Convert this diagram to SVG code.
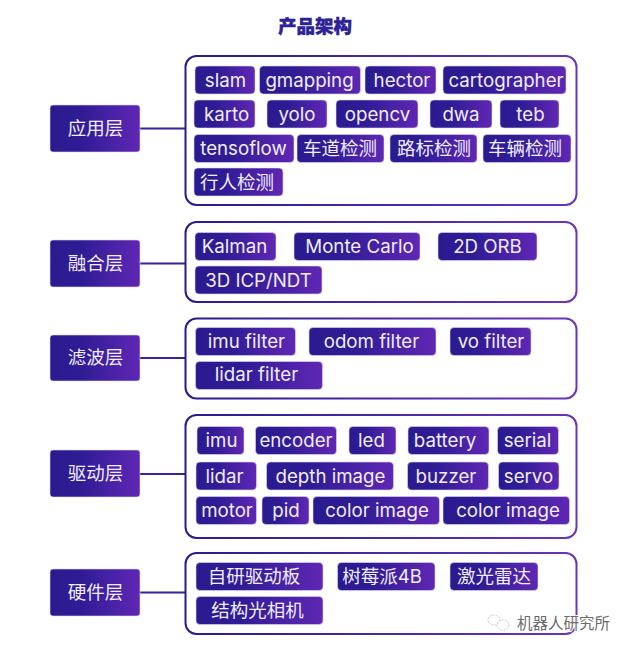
<svg xmlns="http://www.w3.org/2000/svg" width="628" height="650" viewBox="0 0 628 650">
<style>
text{font-family:Inter,"Noto Sans CJK SC",sans-serif;text-anchor:middle}
.t{fill:#f1edfb;font-size:18.700px}
.z{fill:#f1edfb;font-size:18.500px}
.l{fill:#f1edfb;font-size:18.500px}
.tag{fill:url(#g);stroke:#ddd6f0;stroke-width:.6}
.box{fill:#fff;stroke:url(#g2);stroke-width:2}
.c{stroke:#3f1f9f;stroke-width:2;fill:none}
</style>
<defs>
<linearGradient id="g" x1="0" y1="0" x2="1" y2="0"><stop offset="0" stop-color="#2a1a8f"/><stop offset=".35" stop-color="#2f1c95"/><stop offset="1" stop-color="#5f27b4"/></linearGradient>
<linearGradient id="g2" gradientUnits="userSpaceOnUse" x1="185" y1="0" x2="577" y2="0"><stop offset="0" stop-color="#2a1a8f"/><stop offset="1" stop-color="#6a35bd"/></linearGradient>
</defs>
<rect width="628" height="650" fill="#fff"/>
<text x="315" y="33" style="font-size:18.500px;font-weight:900;fill:#2c2196;stroke:#2c2196;stroke-width:.4">产品架构</text>
<g id="connectors">
<line class="c" x1="140" y1="128.500" x2="186" y2="128.500"/>
<line class="c" x1="140" y1="263.500" x2="186" y2="263.500"/>
<line class="c" x1="140" y1="358" x2="186" y2="358"/>
<line class="c" x1="140" y1="474" x2="186" y2="474"/>
<line class="c" x1="140" y1="592.500" x2="186" y2="592.500"/>
</g>
<g id="app"><rect class="box" x="185.500" y="56" width="391" height="149" rx="11"/>
<rect class="tag" x="195" y="66" width="60" height="28" rx="4"/><text class="t" x="225.500" y="87">slam</text>
<rect class="tag" x="259.500" y="66" width="101" height="28" rx="4"/><text class="t" x="309.500" y="87">gmapping</text>
<rect class="tag" x="365" y="66" width="71" height="28" rx="4"/><text class="t" x="402" y="87">hector</text>
<rect class="tag" x="443" y="66" width="123" height="28" rx="4"/><text class="t" x="506" y="87">cartographer</text>
<rect class="tag" x="194" y="100" width="61" height="28" rx="4"/><text class="t" x="226.500" y="121">karto</text>
<rect class="tag" x="267" y="100" width="60" height="28" rx="4"/><text class="t" x="297" y="121">yolo</text>
<rect class="tag" x="336" y="100" width="82" height="28" rx="4"/><text class="t" x="377.500" y="121">opencv</text>
<rect class="tag" x="430" y="100" width="62" height="28" rx="4"/><text class="t" x="461" y="121">dwa</text>
<rect class="tag" x="500" y="100" width="59" height="28" rx="4"/><text class="t" x="530.500" y="121">teb</text>
<rect class="tag" x="194" y="134.500" width="100" height="28" rx="4"/><text class="t" x="243.500" y="155">tensoflow</text>
<rect class="tag" x="297" y="134.500" width="87" height="28" rx="4"/><text class="z" x="340" y="155">车道检测</text>
<rect class="tag" x="390" y="134.500" width="87" height="28" rx="4"/><text class="z" x="434" y="155">路标检测</text>
<rect class="tag" x="483" y="134.500" width="88" height="28" rx="4"/><text class="z" x="525" y="155">车辆检测</text>
<rect class="tag" x="194" y="168" width="89" height="28" rx="4"/><text class="z" x="237" y="189">行人检测</text>
</g>
<g id="fusion"><rect class="box" x="185.500" y="222" width="391" height="80" rx="11"/>
<rect class="tag" x="195" y="232.500" width="81" height="28" rx="4"/><text class="t" x="234.500" y="253">Kalman</text>
<rect class="tag" x="294" y="232.500" width="126" height="28" rx="4"/><text class="t" x="359.500" y="253">Monte Carlo</text>
<rect class="tag" x="438" y="232.500" width="99" height="28" rx="4"/><text class="t" x="487.500" y="253">2D ORB</text>
<rect class="tag" x="195" y="266" width="127" height="28" rx="4"/><text class="t" x="258.500" y="287">3D ICP/NDT</text>
</g>
<g id="filter"><rect class="box" x="185.500" y="318.500" width="391" height="80" rx="11"/>
<rect class="tag" x="195.500" y="327.500" width="100" height="28" rx="4"/><text class="t" x="246.500" y="348">imu filter</text>
<rect class="tag" x="309" y="327.500" width="127" height="28" rx="4"/><text class="t" x="371.500" y="348">odom filter</text>
<rect class="tag" x="450" y="327.500" width="81" height="28" rx="4"/><text class="t" x="491" y="348">vo filter</text>
<rect class="tag" x="195.500" y="361.500" width="127" height="28" rx="4"/><text class="t" x="256.500" y="381">lidar filter</text>
</g>
<g id="driver"><rect class="box" x="185.500" y="415" width="391" height="123" rx="11"/>
<rect class="tag" x="197" y="426.500" width="47" height="28" rx="4"/><text class="t" x="221.500" y="447">imu</text>
<rect class="tag" x="255.500" y="426.500" width="81" height="28" rx="4"/><text class="t" x="296" y="447">encoder</text>
<rect class="tag" x="349" y="426.500" width="47" height="28" rx="4"/><text class="t" x="371.500" y="447">led</text>
<rect class="tag" x="408" y="426.500" width="81" height="28" rx="4"/><text class="t" x="445" y="447">battery</text>
<rect class="tag" x="497.500" y="426.500" width="61" height="28" rx="4"/><text class="t" x="527.500" y="447">serial</text>
<rect class="tag" x="196" y="462" width="60.500" height="28" rx="4"/><text class="t" x="224.500" y="483">lidar</text>
<rect class="tag" x="266.500" y="462" width="127" height="28" rx="4"/><text class="t" x="330.500" y="483">depth image</text>
<rect class="tag" x="407.500" y="462" width="81" height="28" rx="4"/><text class="t" x="446" y="483">buzzer</text>
<rect class="tag" x="498.500" y="462" width="60.500" height="28" rx="4"/><text class="t" x="528.500" y="483">servo</text>
<rect class="tag" x="196" y="496.500" width="60.500" height="28" rx="4"/><text class="t" x="227" y="517">motor</text>
<rect class="tag" x="262" y="496.500" width="47" height="28" rx="4"/><text class="t" x="286" y="517">pid</text>
<rect class="tag" x="313" y="496.500" width="126.500" height="28" rx="4"/><text class="t" x="377" y="517">color image</text>
<rect class="tag" x="443" y="496.500" width="126.500" height="28" rx="4"/><text class="t" x="508" y="517">color image</text>
</g>
<g id="hardware"><rect class="box" x="185.500" y="553" width="391" height="81" rx="11"/>
<rect class="tag" x="196" y="562.500" width="127" height="28" rx="4"/><text class="z" x="254" y="583">自研驱动板</text>
<rect class="tag" x="337.500" y="562.500" width="97.500" height="28" rx="4"/><text class="z" x="382" y="583">树莓派4B</text>
<rect class="tag" x="450" y="562.500" width="88" height="28" rx="4"/><text class="z" x="494" y="583">激光雷达</text>
<rect class="tag" x="196" y="596.500" width="127" height="28" rx="4"/><text class="z" x="257.500" y="617">结构光相机</text>
</g>
<g id="layer-app"><rect class="tag" x="50" y="105" width="90" height="47" rx="3"/><text class="l" x="95.500" y="134.500">应用层</text></g>
<g id="layer-fusion"><rect class="tag" x="50" y="240" width="90" height="47" rx="3"/><text class="l" x="95.500" y="269.500">融合层</text></g>
<g id="layer-filter"><rect class="tag" x="50" y="335" width="90" height="46" rx="3"/><text class="l" x="95.500" y="363.500">滤波层</text></g>
<g id="layer-driver"><rect class="tag" x="50" y="450" width="90" height="47" rx="3"/><text class="l" x="95.500" y="480">驱动层</text></g>
<g id="layer-hardware"><rect class="tag" x="50" y="569" width="90" height="47" rx="3"/><text class="l" x="95.500" y="598.500">硬件层</text></g>
<g id="watermark">
<ellipse cx="494" cy="620" rx="6" ry="5" fill="#fff" stroke="#c9c9c9" stroke-width="1" stroke-dasharray="2 1"/>
<ellipse cx="503" cy="625" rx="6" ry="5" fill="#fff" stroke="#c9c9c9" stroke-width="1" stroke-dasharray="2 1"/>
<text x="563.500" y="629" style="font-size:15.500px;fill:#6b6b6b;stroke:#fff;stroke-width:2;paint-order:stroke">机器人研究所</text>
</g>
</svg>
